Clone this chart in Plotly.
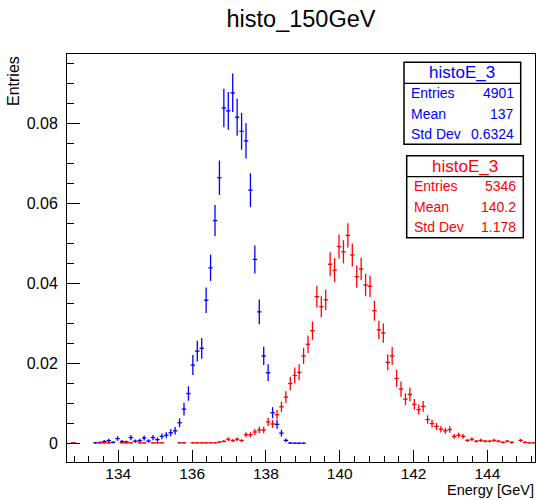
import plotly.graph_objects as go

# ---- histogram binning (shared by both histograms) ----
BIN_WIDTH = 0.12
FIRST_CENTER = 132.78

# ---- blue histogram (histoE_3, first) : bins starting at FIRST_CENTER ----
blue_values = [
    0.0002, 0, 0, 0, 0, 0.0002, 0.00025, 0.0005, 0.00075, 0.0003,
    0.00125, 0.0005, 0.0004, 0.0015, 0.0006, 0.00075, 0.0014, 0.00065, 0.0015, 0.001,
    0.0018, 0.0021, 0.0027, 0.0032, 0.0052, 0.0086, 0.0125, 0.0196, 0.0231, 0.0238,
    0.0358, 0.0439, 0.0557, 0.0664, 0.0838, 0.0831, 0.0876, 0.0815, 0.0780, 0.0756,
    0.0633, 0.0460, 0.0329, 0.0219, 0.0177, 0.0077, 0.0048, 0.0026, 0.0008, 0.00015,
    0.0001, 0.0001, 0.0001,
]
blue_errors = [
    0.0002, 0, 0, 0, 0, 0.0002, 0.00025, 0.00037, 0.00045, 0.00028,
    0.00058, 0.00037, 0.00033, 0.00064, 0.0004, 0.00045, 0.00062, 0.00042, 0.00064, 0.00052,
    0.0007, 0.00075, 0.00085, 0.00093, 0.0011, 0.0016, 0.0018, 0.0025, 0.0026, 0.0026,
    0.0032, 0.0033, 0.0039, 0.0043, 0.0048, 0.0047, 0.0048, 0.0046, 0.0046, 0.0044,
    0.0042, 0.0035, 0.0031, 0.0023, 0.0021, 0.0014, 0.0011, 0.00084, 0.00046, 0.0002,
    0.00016, 0.00016, 0.00016,
]

# ---- red histogram (histoE_3, second) ----
red_values = [
    0.00019, 0, 0, 0, 0, 0, 0.00019, 0.00019, 0.00019, 0,
    0, 0.00019, 0.00019, 0.00019, 0, 0.00019, 0.00019, 0, 0.00019, 0.00019,
    0.00019, 0, 0, 0, 0.00019, 0.00019, 0, 0.00019, 0.00019, 0.00019,
    0.00019, 0.00019, 0.00019, 0.00037, 0.00056, 0.0011, 0.00075, 0.0011, 0.00075, 0.0022,
    0.0022, 0.0029, 0.0034, 0.0034, 0.0054, 0.0049, 0.0072, 0.0092, 0.0116, 0.0150,
    0.0170, 0.0178, 0.0219, 0.0248, 0.0282, 0.0367, 0.0342, 0.0359, 0.0448, 0.0433,
    0.0492, 0.0479, 0.0520, 0.0471, 0.0417, 0.0436, 0.0396, 0.0393, 0.0332, 0.0284,
    0.0276, 0.0203, 0.0219, 0.0163, 0.0136, 0.0111, 0.0123, 0.0098, 0.0085, 0.0093,
    0.0060, 0.0050, 0.0043, 0.0036, 0.0032, 0.0035, 0.0018, 0.0021, 0.0018, 0.0008,
    0.0011, 0.0006, 0.0008, 0.0006, 0.0006, 0.0008, 0.0006, 0.0003, 0.0006, 0.0003,
    0, 0.0008, 0.0003, 0.0002, 0.0002,
]
red_errors = [
    0.00019, 0, 0, 0, 0, 0, 0.00019, 0.00019, 0.00019, 0,
    0, 0.00019, 0.00019, 0.00019, 0, 0.00019, 0.00019, 0, 0.00019, 0.00019,
    0.00019, 0, 0, 0, 0.00019, 0.00019, 0, 0.00019, 0.00019, 0.00019,
    0.00019, 0.00019, 0.00019, 0.00026, 0.00032, 0.00045, 0.00037, 0.00045, 0.00037, 0.00064,
    0.00064, 0.00074, 0.0008, 0.0008, 0.001, 0.00096, 0.00116, 0.0013, 0.00147, 0.0017,
    0.002, 0.002, 0.002, 0.0022, 0.0023, 0.0027, 0.0026, 0.0026, 0.003, 0.003,
    0.003, 0.0029, 0.003, 0.0029, 0.0028, 0.0028, 0.0028, 0.0027, 0.0025, 0.0023,
    0.0024, 0.002, 0.0022, 0.0021, 0.0019, 0.0015, 0.0017, 0.00135, 0.00126, 0.00132,
    0.00106, 0.00097, 0.0009, 0.00082, 0.00077, 0.00081, 0.00058, 0.00063, 0.00058, 0.00039,
    0.00045, 0.00032, 0.00039, 0.00032, 0.00032, 0.00039, 0.00032, 0.00026, 0.00032, 0.00026,
    0, 0.00039, 0.00026, 0.00019, 0.00019,
]

blue_stats = [("Entries", "4901"), ("Mean", "137"), ("Std Dev", "0.6324")]
red_stats = [("Entries", "5346"), ("Mean", "140.2"), ("Std Dev", "1.178")]

x_ticks = [134, 136, 138, 140, 142, 144]
y_ticks = [0, 0.02, 0.04, 0.06, 0.08]
y_tick_labels = ["0", "0.02", "0.04", "0.06", "0.08"]

FONT = "Liberation Sans, Arial, Helvetica, sans-serif"
BLUE = "#0000ff"
RED = "#ff0000"


def points(values, errors):
    xs, ys, es = [], [], []
    for i, (v, e) in enumerate(zip(values, errors)):
        if v > 0:
            xs.append(round(FIRST_CENTER + i * BIN_WIDTH, 4))
            ys.append(v)
            es.append(e)
    return xs, ys, es


fig = go.Figure()
for vals, errs, col in [(blue_values, blue_errors, BLUE), (red_values, red_errors, RED)]:
    xs, ys, es = points(vals, errs)
    fig.add_trace(go.Scatter(
        x=xs, y=ys, mode="markers",
        marker=dict(size=1, color=col),
        error_y=dict(type="data", array=es, color=col, thickness=1.3, width=0),
        error_x=dict(type="constant", value=BIN_WIDTH / 2, color=col, thickness=1.3, width=0),
        showlegend=False, hoverinfo="x+y",
    ))

# plot area in pixels: x 67..535, y 54..462
L, R, T, B = 67, 535, 54, 462
W, H = R - L, B - T


def px(x):
    return (x - L) / W


def py(y):
    return (B - y) / H


shapes = []
annotations = []


def stats_box(x0, x1, y0, ysep, y1, col, rows, title_y, row_ys, lx, rx):
    shapes.append(dict(type="rect", xref="paper", yref="paper",
                       x0=px(x0), x1=px(x1), y0=py(y1), y1=py(y0),
                       line=dict(color="black", width=1.5), fillcolor="white", layer="above"))
    shapes.append(dict(type="line", xref="paper", yref="paper",
                       x0=px(x0), x1=px(x1), y0=py(ysep), y1=py(ysep),
                       line=dict(color="black", width=1.2), layer="above"))
    annotations.append(dict(xref="paper", yref="paper", x=px((x0 + x1) / 2), y=py(title_y),
                            text="histoE_3", showarrow=False, xanchor="center", yanchor="middle",
                            font=dict(family=FONT, size=17, color=col)))
    for (lab, val), yy in zip(rows, row_ys):
        annotations.append(dict(xref="paper", yref="paper", x=px(lx), y=py(yy), text=lab,
                                showarrow=False, xanchor="left", yanchor="middle",
                                font=dict(family=FONT, size=14, color=col)))
        annotations.append(dict(xref="paper", yref="paper", x=px(rx), y=py(yy), text=val,
                                showarrow=False, xanchor="right", yanchor="middle",
                                font=dict(family=FONT, size=14, color=col)))


stats_box(404, 520.7, 62.3, 83.3, 144.3, BLUE, blue_stats, 73, [93.3, 113.8, 134.3], 409, 516)
stats_box(406.7, 523.3, 155.7, 176.7, 237.7, RED, red_stats, 166, [185.7, 206.5, 226.7], 412, 518)

annotations.append(dict(xref="paper", yref="paper", x=1.0, y=py(499.5), text="Energy [GeV]",
                        showarrow=False, xanchor="right", yanchor="bottom", borderpad=0,
                        font=dict(family=FONT, size=14.5, color="black")))
annotations.append(dict(xref="paper", yref="paper", x=px(13), y=py(81), text="Entries",
                        textangle=-90, showarrow=False, xanchor="center", yanchor="middle",
                        font=dict(family=FONT, size=16, color="black")))

fig.update_layout(
    width=536, height=500,
    margin=dict(l=L, r=536 - R, t=T, b=500 - B),
    paper_bgcolor="white", plot_bgcolor="white",
    title=dict(text="histo_150GeV", x=0.5, xref="paper", xanchor="center",
               y=1 - 19 / 500, yref="container", yanchor="middle",
               font=dict(family=FONT, size=23.5, color="black")),
    shapes=shapes, annotations=annotations,
    xaxis=dict(range=[132.61, 145.29], tickmode="array", tickvals=x_ticks,
               ticks="inside", ticklen=12, tickcolor="black", tickwidth=1,
               minor=dict(dtick=0.4, tick0=134, ticks="inside", ticklen=6, tickcolor="black"),
               showline=True, linecolor="black", linewidth=1, mirror=True,
               showgrid=False, zeroline=False, ticklabelstandoff=-3,
               tickfont=dict(family=FONT, size=15.5, color="black")),
    yaxis=dict(range=[-0.0046, 0.0973], tickmode="array", tickvals=y_ticks, ticktext=y_tick_labels,
               ticks="inside", ticklen=13, tickcolor="black", tickwidth=1,
               minor=dict(dtick=0.005, tick0=0, ticks="inside", ticklen=7, tickcolor="black"),
               showline=True, linecolor="black", linewidth=1, mirror=True,
               showgrid=False, zeroline=False, ticklabelstandoff=5,
               tickfont=dict(family=FONT, size=16, color="black")),
)

fig.write_html("out.html")
